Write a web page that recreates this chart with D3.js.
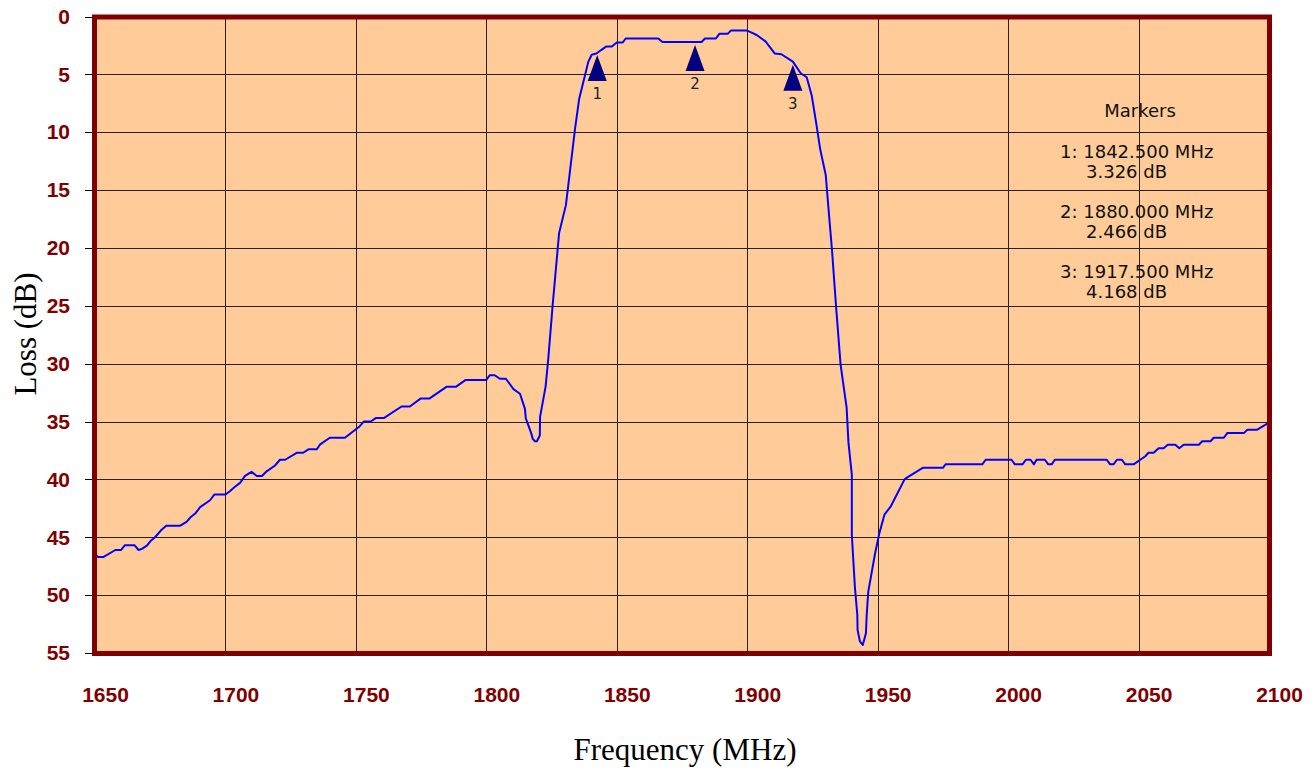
<!DOCTYPE html>
<html lang="en">
<head>
  <meta charset="UTF-8">
  <title>Loss vs Frequency</title>
  <style>
    html, body { margin: 0; padding: 0; background: #fff; }
    .ytick text, .xtick text { font: bold 21px "Liberation Sans", Arial, sans-serif; fill: #800000; }
    .title { font: 31px "Liberation Serif", "Times New Roman", serif; fill: #000; }
    .legend { font: 18px "DejaVu Sans", Verdana, sans-serif; fill: #111; }
    .mlabel { font: 15px "DejaVu Sans", Verdana, sans-serif; fill: #222; }
  </style>
</head>
<body>
  <svg id="chart" width="1316" height="774"></svg>

  <script src="https://d3js.org/d3.v7.min.js"></script>
  <script>
    // trace
    const FREQ = [
      1650, 1651, 1653.3, 1657.8, 1660, 1661.4, 1665.2, 1666.7, 1668, 1670,
      1671.2, 1673, 1675.3, 1677.3, 1682.7, 1685.2, 1686.5, 1688.4, 1690.3, 1694.1,
      1695.8, 1700, 1701.8, 1703.3, 1705.6, 1707.5, 1710, 1712, 1714, 1715.8,
      1719, 1720.9, 1722.9, 1727.3, 1729.8, 1731.8, 1735, 1736.2, 1740, 1745.8,
      1751.5, 1753, 1755.7, 1757.6, 1760.7, 1767.5, 1770.7, 1774.9, 1778.3, 1784.7,
      1788.3, 1792.1, 1800, 1801.3, 1803.2, 1805.2, 1807.5, 1810.4, 1812.9, 1814.8,
      1815.1, 1817.2, 1817.8, 1818.6, 1819.4, 1820.5, 1820.6, 1822.7, 1823.7, 1825.4,
      1827.9, 1830.5, 1834, 1835.6, 1837.8, 1839.1, 1840.4, 1842.2, 1844, 1845.9,
      1848.1, 1850, 1852.3, 1853.4, 1865.9, 1867.5, 1882.5, 1883.8, 1888, 1889.3,
      1892.5, 1893.8, 1899.7, 1901.7, 1903.6, 1907, 1910.6, 1913.1, 1917.5, 1920.5,
      1922.8, 1924.7, 1926.5, 1928, 1930.1, 1931.3, 1932.5, 1934.1, 1935.8, 1938.1,
      1938.8, 1940.1, 1940.1, 1941.3, 1942.2, 1942.3, 1943.2, 1944.3, 1945.5, 1945.8,
      1946.4, 1949, 1950.7, 1952.6, 1955.1, 1960.3, 1961.5, 1967.3, 1975, 1976,
      1990.1, 1991.4, 2001.3, 2002.6, 2005.5, 2006.8, 2008.6, 2009.9, 2010.9, 2014.1,
      2015.4, 2016.7, 2017.9, 2037.8, 2039.1, 2040.4, 2041.7, 2043.6, 2044.9, 2048.1,
      2052.6, 2053.8, 2055.8, 2057.7, 2059.6, 2061.2, 2064.1, 2065.6, 2067.3, 2073.1,
      2074.4, 2077.6, 2078.8, 2082.7, 2084, 2090.4, 2091.7, 2095.5, 2100
    ];
    const LOSS = [
      46.4, 46.7, 46.7, 46.1, 46.1, 45.7, 45.7, 46.1, 46.0, 45.7,
      45.35, 45.0, 44.4, 44.0, 44.0, 43.65, 43.3, 42.95, 42.4, 41.8,
      41.3, 41.3, 41.0, 40.7, 40.3, 39.7, 39.35, 39.7, 39.7, 39.3,
      38.8, 38.3, 38.3, 37.7, 37.7, 37.4, 37.4, 37.0, 36.4, 36.4,
      35.4, 35.0, 35.0, 34.7, 34.7, 33.7, 33.7, 33.0, 33.0, 32.0,
      32.0, 31.4, 31.4, 31.0, 31.0, 31.3, 31.3, 32.2, 32.6, 33.9,
      34.7, 36.0, 36.5, 36.7, 36.7, 36.2, 34.6, 32.0, 29.7, 25.0,
      18.7, 16.3, 9.7, 7.1, 5.1, 3.9, 3.3, 3.2, 2.9, 2.6,
      2.6, 2.25, 2.25, 1.9, 1.9, 2.2, 2.2, 1.9, 1.9, 1.5,
      1.5, 1.2, 1.2, 1.4, 1.6, 2.15, 3.2, 3.26, 3.9, 4.9,
      5.25, 6.8, 9.3, 11.5, 13.7, 17.0, 20.2, 25.2, 30.1, 33.8,
      36.8, 39.6, 44.8, 49.4, 51.7, 53.0, 54.0, 54.3, 53.3, 51.7,
      49.7, 46.4, 44.6, 43.05, 42.3, 40.0, 39.8, 39.0, 39.0, 38.7,
      38.7, 38.3, 38.3, 38.7, 38.7, 38.3, 38.3, 38.7, 38.3, 38.3,
      38.7, 38.7, 38.3, 38.3, 38.7, 38.7, 38.3, 38.3, 38.7, 38.7,
      38.0, 37.7, 37.7, 37.3, 37.3, 37.0, 37.0, 37.3, 37.0, 37.0,
      36.7, 36.7, 36.4, 36.4, 36.0, 36.0, 35.7, 35.7, 35.1
    ];

    // markers
    const MARK_ID   = [1, 2, 3];
    const MARK_FREQ = [1842.5, 1880.0, 1917.5];
    const MARK_LOSS = [3.326, 2.466, 4.168];

    // ticks
    const X_TICKS = [1650, 1700, 1750, 1800, 1850, 1900, 1950, 2000, 2050, 2100];
    const Y_TICKS = [0, 5, 10, 15, 20, 25, 30, 35, 40, 45, 50, 55];

    const L = 95, R = 1269, T = 16.5, B = 653;
    const x = d3.scaleLinear().domain([1650, 2100]).range([L, R]);
    const y = d3.scaleLinear().domain([0, 55]).range([T, B]);

    const svg = d3.select('#chart');

    // plot background
    svg.append('rect')
      .attr('x', L).attr('y', T).attr('width', R - L).attr('height', B - T)
      .attr('fill', '#FFCC99');

    // grid
    const grid = svg.append('g').attr('shape-rendering', 'crispEdges');
    grid.selectAll('.hg').data(Y_TICKS).join('line')
      .attr('x1', L).attr('x2', R)
      .attr('y1', d => Math.round(y(d)) + 0.5).attr('y2', d => Math.round(y(d)) + 0.5)
      .attr('stroke', '#2a2018').attr('stroke-width', 1);
    grid.selectAll('.vg').data(X_TICKS.slice(1, -1)).join('line')
      .attr('x1', d => Math.round(x(d)) + 0.5).attr('x2', d => Math.round(x(d)) + 0.5)
      .attr('y1', T).attr('y2', B)
      .attr('stroke', '#2a2018').attr('stroke-width', 1);

    // y axis
    const yAxis = svg.append('g').attr('class', 'ytick')
      .attr('transform', `translate(${L - 2},0)`)
      .call(d3.axisLeft(y).tickValues(Y_TICKS).tickSize(8).tickPadding(15).tickFormat(d3.format('d')));
    yAxis.select('.domain').remove();
    yAxis.selectAll('line').attr('stroke', '#000').attr('shape-rendering', 'crispEdges');
    yAxis.selectAll('text').attr('dy', '0.32em');

    // x axis
    const xAxis = svg.append('g').attr('class', 'xtick')
      .attr('transform', `translate(0,${B})`)
      .call(d3.axisBottom(x).tickValues(X_TICKS).tickSize(0).tickPadding(34).tickFormat(d3.format('d')));
    xAxis.select('.domain').remove();
    xAxis.selectAll('text').attr('dx', 10);

    // curve
    const pts = FREQ.map((f, i) => [f, LOSS[i]]);
    svg.append('path')
      .datum(pts)
      .attr('fill', 'none')
      .attr('stroke', '#0000FF')
      .attr('stroke-width', 2)
      .attr('stroke-linejoin', 'round')
      .attr('d', d3.line().x(d => x(d[0])).y(d => y(d[1])));

    // frame
    svg.append('rect')
      .attr('x', L - 0.5).attr('y', T + 0.5).attr('width', R - L + 1).attr('height', B - T)
      .attr('fill', 'none').attr('stroke', '#800000').attr('stroke-width', 5);

    // marker triangles
    MARK_ID.forEach((id, i) => {
      const mx = x(MARK_FREQ[i]), my = y(MARK_LOSS[i]);
      svg.append('path')
        .attr('d', `M${mx},${my} L${mx + 9.5},${my + 26} L${mx - 9.5},${my + 26} Z`)
        .attr('fill', '#000080');
      svg.append('text').attr('class', 'mlabel')
        .attr('x', mx).attr('y', my + 44)
        .attr('text-anchor', 'middle')
        .text(id);
    });

    // marker legend
    svg.append('text').attr('class', 'legend')
      .attr('x', 1140).attr('y', 117).attr('text-anchor', 'middle')
      .text('Markers');
    MARK_ID.forEach((id, i) => {
      const by = 158 + i * 60;
      svg.append('text').attr('class', 'legend')
        .attr('x', 1060).attr('y', by)
        .attr('xml:space', 'preserve')
        .text(`${id}: ${MARK_FREQ[i].toFixed(3)} MHz`);
      svg.append('text').attr('class', 'legend')
        .attr('x', 1086).attr('y', by + 20)
        .text(`${MARK_LOSS[i].toFixed(3)} dB`);
    });

    // axis titles
    svg.append('text').attr('class', 'title')
      .attr('x', 685).attr('y', 760).attr('text-anchor', 'middle')
      .text('Frequency (MHz)');
    svg.append('text').attr('class', 'title')
      .attr('transform', 'translate(36,334) rotate(-90)')
      .attr('text-anchor', 'middle')
      .text('Loss (dB)');
  </script>
</body>
</html>
